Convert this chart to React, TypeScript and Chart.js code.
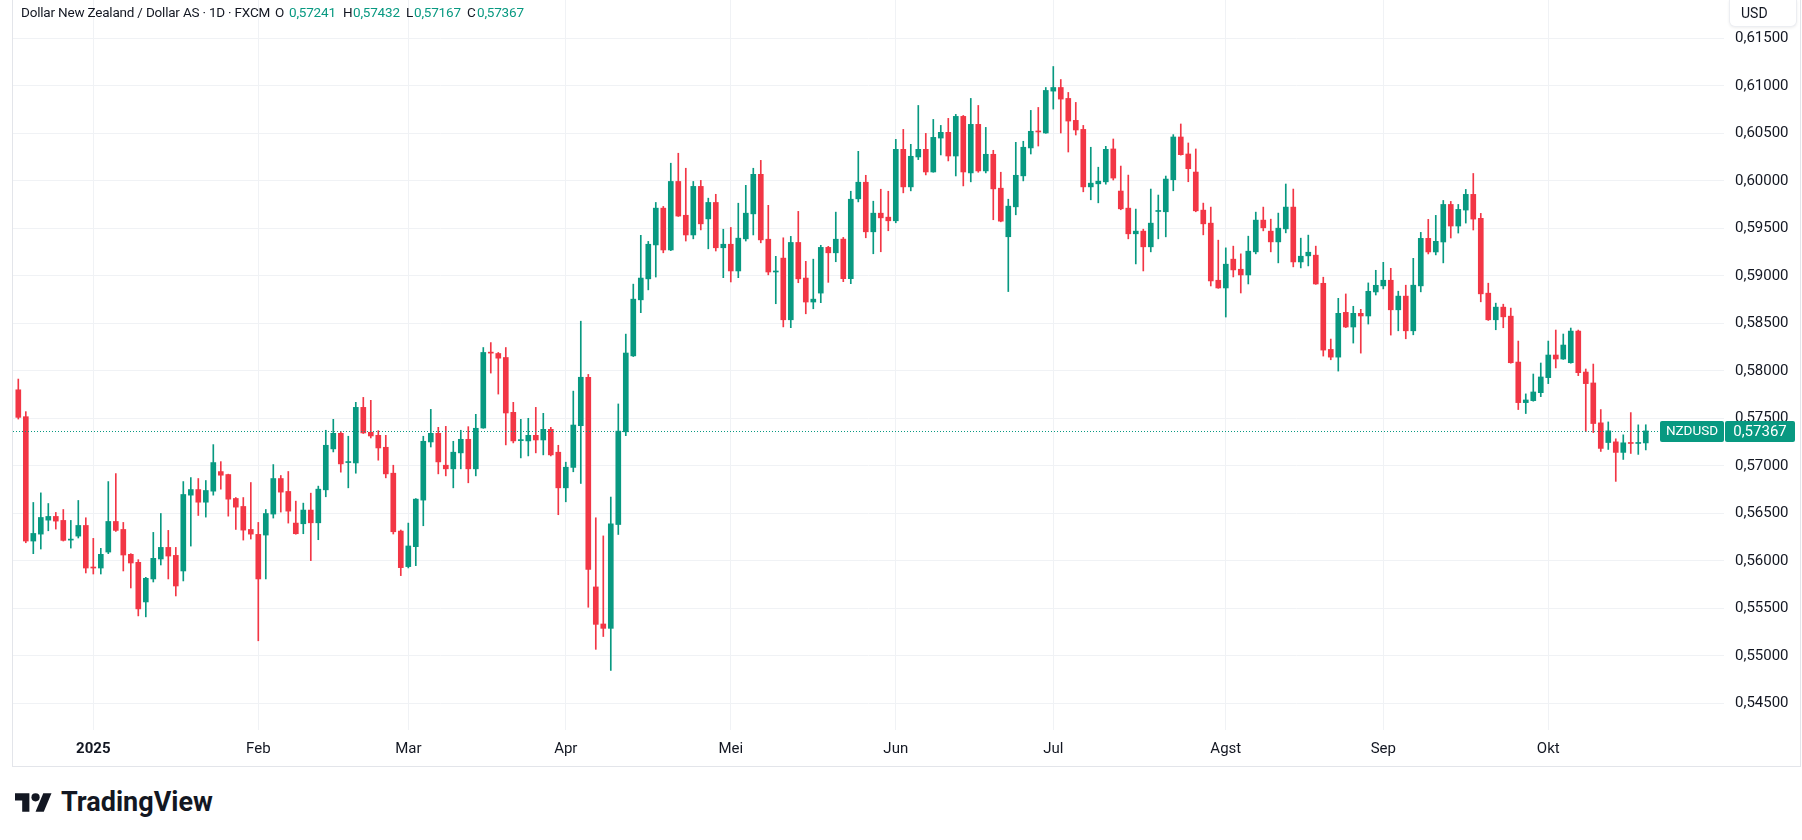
import React, { useEffect, useRef } from "react";
import { Chart, registerables } from "chart.js";

Chart.register(...registerables);

// ---------- data ----------
const SYMBOL = "NZDUSD";
const TITLE = "Dollar New Zealand / Dollar AS · 1D · FXCM";
const CURRENCY = "USD";
const START_DATE = "2024-12-17";
const HOLIDAYS = ["2024-12-25", "2025-01-01"];
const MONTH_NAMES = ["Jan", "Feb", "Mar", "Apr", "Mei", "Jun", "Jul", "Agst", "Sep", "Okt", "Nov", "Des"];
const PRICE_TICKS = [0.545, 0.55, 0.555, 0.56, 0.565, 0.57, 0.575, 0.58, 0.585, 0.59, 0.595, 0.6, 0.605, 0.61, 0.615];

const OPEN = [
  0.57800, 0.57517, 0.56208, 0.56281, 0.56428, 0.56467, 0.56425, 0.56218, 0.56260, 0.56372,
  0.55931, 0.55924, 0.56092, 0.56414, 0.56330, 0.56068, 0.55984, 0.55567, 0.55809, 0.56019,
  0.56141, 0.56057, 0.55893, 0.56691, 0.56750, 0.56617, 0.56733, 0.56939, 0.56908, 0.56656,
  0.56572, 0.56330, 0.56278, 0.56271, 0.56492, 0.56866, 0.56730, 0.56397, 0.56390, 0.56534,
  0.56400, 0.56747, 0.57178, 0.57342, 0.57034, 0.57030, 0.57615, 0.57353, 0.57321, 0.57195,
  0.56922, 0.56313, 0.55939, 0.56149, 0.56639, 0.57251, 0.57342, 0.57006, 0.56968, 0.57136,
  0.57279, 0.56968, 0.57398, 0.58189, 0.58182, 0.58140, 0.57563, 0.57265, 0.57262, 0.57321,
  0.57272, 0.57384, 0.57143, 0.56768, 0.56983, 0.57422, 0.57932, 0.55725, 0.55335, 0.55289,
  0.56382, 0.57358, 0.58157, 0.58747, 0.58968, 0.59325, 0.59712, 0.59272, 0.59993, 0.59637,
  0.59430, 0.59941, 0.59599, 0.59772, 0.59295, 0.59332, 0.59051, 0.59389, 0.59652, 0.60068,
  0.59385, 0.59040, 0.59186, 0.58537, 0.59351, 0.58976, 0.58724, 0.58818, 0.59299, 0.59242,
  0.59386, 0.58970, 0.59810, 0.59985, 0.59463, 0.59659, 0.59617, 0.59579, 0.60331, 0.59936,
  0.60251, 0.60331, 0.60093, 0.60450, 0.60510, 0.60261, 0.60678, 0.60083, 0.60594, 0.60104,
  0.60279, 0.59922, 0.59411, 0.59726, 0.60052, 0.60346, 0.60521, 0.60503, 0.60944, 0.60982,
  0.60867, 0.60636, 0.60541, 0.59936, 0.59968, 0.59989, 0.60335, 0.59892, 0.59712, 0.59442,
  0.59470, 0.59305, 0.59677, 0.59674, 0.60011, 0.60461, 0.60282, 0.60092, 0.59691, 0.59554,
  0.58953, 0.58872, 0.59175, 0.59069, 0.59009, 0.59252, 0.59586, 0.59470, 0.59357, 0.59494,
  0.59723, 0.59146, 0.59210, 0.59217, 0.58921, 0.58225, 0.58144, 0.58615, 0.58461, 0.58605,
  0.58577, 0.58830, 0.58894, 0.58953, 0.58642, 0.58786, 0.58421, 0.58894, 0.59394, 0.59251,
  0.59356, 0.59751, 0.59524, 0.59692, 0.59857, 0.59605, 0.58817, 0.58537, 0.58670, 0.58575,
  0.58092, 0.57665, 0.57686, 0.57770, 0.57928, 0.58166, 0.58124, 0.58085, 0.58418, 0.57987,
  0.57872, 0.57452, 0.57245, 0.57252, 0.57141, 0.57242, 0.57235, 0.57241,
];

const HIGH = [
  0.57913, 0.57570, 0.56614, 0.56715, 0.56603, 0.56509, 0.56540, 0.56425, 0.56635, 0.56453,
  0.56236, 0.56131, 0.56834, 0.56918, 0.56404, 0.56075, 0.56012, 0.55826, 0.56299, 0.56498,
  0.56320, 0.56141, 0.56834, 0.56876, 0.56866, 0.56845, 0.57223, 0.57044, 0.56912, 0.56666,
  0.56666, 0.56824, 0.56404, 0.56540, 0.57013, 0.56898, 0.56940, 0.56628, 0.56607, 0.56712,
  0.56786, 0.57374, 0.57489, 0.57360, 0.57311, 0.57668, 0.57720, 0.57689, 0.57370, 0.57321,
  0.57006, 0.56324, 0.56397, 0.56655, 0.57311, 0.57594, 0.57405, 0.57415, 0.57258, 0.57374,
  0.57412, 0.57542, 0.58245, 0.58297, 0.58193, 0.58245, 0.57668, 0.57489, 0.57500, 0.57615,
  0.57552, 0.57405, 0.57216, 0.57038, 0.57786, 0.58522, 0.57962, 0.56453, 0.56262, 0.56671,
  0.57651, 0.58386, 0.58912, 0.59426, 0.59362, 0.59772, 0.59730, 0.60185, 0.60290, 0.60132,
  0.59993, 0.60004, 0.59817, 0.59858, 0.59490, 0.59509, 0.59764, 0.59952, 0.60132, 0.60215,
  0.59742, 0.59205, 0.59400, 0.59415, 0.59678, 0.59152, 0.59175, 0.59321, 0.59310, 0.59670,
  0.59404, 0.59890, 0.60310, 0.60058, 0.59785, 0.59911, 0.59890, 0.60436, 0.60541, 0.60384,
  0.60793, 0.60499, 0.60646, 0.60583, 0.60657, 0.60699, 0.60688, 0.60867, 0.60793, 0.60562,
  0.60321, 0.60090, 0.59806, 0.60405, 0.60416, 0.60741, 0.60772, 0.60982, 0.61203, 0.61066,
  0.60930, 0.60825, 0.60583, 0.60353, 0.60143, 0.60363, 0.60440, 0.60155, 0.60060, 0.59702,
  0.59491, 0.59913, 0.59850, 0.60050, 0.60486, 0.60598, 0.60398, 0.60335, 0.59765, 0.59723,
  0.59375, 0.59294, 0.59312, 0.59231, 0.59417, 0.59670, 0.59723, 0.59596, 0.59660, 0.59966,
  0.59913, 0.59396, 0.59428, 0.59312, 0.58985, 0.58334, 0.58763, 0.58809, 0.58679, 0.58647,
  0.58925, 0.59058, 0.59142, 0.59079, 0.58838, 0.58901, 0.59184, 0.59457, 0.59594, 0.59636,
  0.59793, 0.59783, 0.59751, 0.59909, 0.60077, 0.59657, 0.58922, 0.58712, 0.58701, 0.58660,
  0.58313, 0.57757, 0.57966, 0.58082, 0.58313, 0.58429, 0.58387, 0.58450, 0.58429, 0.58019,
  0.58071, 0.57592, 0.57462, 0.57284, 0.57326, 0.57560, 0.57431, 0.57432,
];

const LOW = [
  0.57492, 0.56190, 0.56075, 0.56124, 0.56316, 0.56334, 0.56208, 0.56134, 0.56240, 0.55872,
  0.55861, 0.55861, 0.56075, 0.56309, 0.55893, 0.55714, 0.55420, 0.55410, 0.55777, 0.55956,
  0.55809, 0.55630, 0.55788, 0.56155, 0.56477, 0.56460, 0.56691, 0.56754, 0.56470, 0.56330,
  0.56218, 0.56229, 0.55158, 0.55809, 0.56450, 0.56513, 0.56397, 0.56280, 0.56285, 0.56002,
  0.56222, 0.56674, 0.57146, 0.56933, 0.56768, 0.56922, 0.57340, 0.57293, 0.57059, 0.56873,
  0.56282, 0.55844, 0.55925, 0.55949, 0.56369, 0.57198, 0.56915, 0.56894, 0.56768, 0.56968,
  0.56821, 0.56894, 0.57395, 0.57976, 0.57755, 0.57220, 0.57241, 0.57083, 0.57104, 0.57136,
  0.57115, 0.57104, 0.56485, 0.56621, 0.56937, 0.56814, 0.55511, 0.55068, 0.55203, 0.54846,
  0.56277, 0.57317, 0.58150, 0.58612, 0.58852, 0.58987, 0.59242, 0.59265, 0.59625, 0.59366,
  0.59389, 0.59483, 0.59284, 0.59261, 0.58980, 0.58935, 0.58980, 0.59366, 0.59430, 0.59347,
  0.59010, 0.58706, 0.58462, 0.58454, 0.58927, 0.58600, 0.58653, 0.58717, 0.58931, 0.59148,
  0.58938, 0.58917, 0.59778, 0.59400, 0.59232, 0.59253, 0.59474, 0.59558, 0.59873, 0.59894,
  0.60223, 0.60062, 0.60090, 0.60272, 0.60209, 0.60051, 0.59946, 0.59989, 0.60090, 0.60083,
  0.59590, 0.59568, 0.58834, 0.59642, 0.59999, 0.60282, 0.60366, 0.60500, 0.60755, 0.60503,
  0.60303, 0.60482, 0.59884, 0.59800, 0.59768, 0.59964, 0.60008, 0.59695, 0.59389, 0.59125,
  0.59051, 0.59252, 0.59389, 0.59410, 0.59895, 0.60270, 0.59990, 0.59674, 0.59431, 0.58893,
  0.58868, 0.58566, 0.58988, 0.58819, 0.58914, 0.59231, 0.59473, 0.59252, 0.59136, 0.59452,
  0.59094, 0.59083, 0.59104, 0.58910, 0.58155, 0.58116, 0.57997, 0.58455, 0.58292, 0.58186,
  0.58492, 0.58798, 0.58862, 0.58376, 0.58421, 0.58337, 0.58379, 0.58831, 0.59230, 0.59220,
  0.59136, 0.59398, 0.59450, 0.59555, 0.59482, 0.58726, 0.58530, 0.58432, 0.58453, 0.58080,
  0.57592, 0.57550, 0.57680, 0.57728, 0.57865, 0.58030, 0.58120, 0.58080, 0.57949, 0.57361,
  0.57350, 0.57151, 0.57172, 0.56836, 0.57067, 0.57130, 0.57120, 0.57167,
];

const CLOSE = [
  0.57510, 0.56208, 0.56288, 0.56456, 0.56467, 0.56418, 0.56215, 0.56225, 0.56372, 0.55924,
  0.55924, 0.56068, 0.56414, 0.56320, 0.56061, 0.55977, 0.55494, 0.55816, 0.56026, 0.56141,
  0.56050, 0.55735, 0.56698, 0.56750, 0.56617, 0.56740, 0.57034, 0.56901, 0.56649, 0.56565,
  0.56323, 0.56281, 0.55809, 0.56498, 0.56866, 0.56723, 0.56523, 0.56285, 0.56534, 0.56400,
  0.56754, 0.57216, 0.57342, 0.57020, 0.57038, 0.57615, 0.57346, 0.57314, 0.57188, 0.56915,
  0.56306, 0.55928, 0.56156, 0.56649, 0.57258, 0.57342, 0.57041, 0.56968, 0.57143, 0.57279,
  0.56968, 0.57395, 0.58193, 0.58186, 0.58133, 0.57556, 0.57262, 0.57269, 0.57321, 0.57272,
  0.57384, 0.57115, 0.56768, 0.56985, 0.57429, 0.57932, 0.55909, 0.55331, 0.55289, 0.56389,
  0.57365, 0.58187, 0.58754, 0.58976, 0.59332, 0.59712, 0.59272, 0.59993, 0.59629, 0.59430,
  0.59941, 0.59547, 0.59772, 0.59295, 0.59332, 0.59051, 0.59396, 0.59659, 0.60068, 0.59378,
  0.59040, 0.59043, 0.58537, 0.59351, 0.58968, 0.58724, 0.58754, 0.59299, 0.59242, 0.59385,
  0.58970, 0.59806, 0.59985, 0.59463, 0.59659, 0.59610, 0.59579, 0.60331, 0.59936, 0.60258,
  0.60331, 0.60093, 0.60457, 0.60510, 0.60261, 0.60678, 0.60093, 0.60594, 0.60104, 0.60279,
  0.59915, 0.59575, 0.59733, 0.60058, 0.60353, 0.60521, 0.60514, 0.60951, 0.60982, 0.60860,
  0.60629, 0.60535, 0.59936, 0.59975, 0.59996, 0.60331, 0.60029, 0.59705, 0.59442, 0.59470,
  0.59305, 0.59554, 0.59681, 0.60018, 0.60461, 0.60275, 0.60127, 0.59684, 0.59547, 0.58946,
  0.58872, 0.59122, 0.59062, 0.59009, 0.59259, 0.59586, 0.59505, 0.59357, 0.59501, 0.59723,
  0.59146, 0.59206, 0.59248, 0.58914, 0.58218, 0.58144, 0.58605, 0.58461, 0.58605, 0.58577,
  0.58837, 0.58900, 0.58953, 0.58642, 0.58786, 0.58421, 0.58901, 0.59394, 0.59251, 0.59363,
  0.59751, 0.59524, 0.59699, 0.59857, 0.59597, 0.58810, 0.58537, 0.58670, 0.58568, 0.58085,
  0.57665, 0.57693, 0.57777, 0.57935, 0.58166, 0.58124, 0.58271, 0.58418, 0.57980, 0.57865,
  0.57445, 0.57183, 0.57368, 0.57141, 0.57242, 0.57235, 0.57242, 0.57367,
];

// ---------- view / style ----------
const X_MIN = -0.707;
const X_MAX = 227.43;
const Y_MIN = 0.54219;
const Y_MAX = 0.61903;

const GREEN = "#089981";
const RED = "#F23645";
const GRID = "#f0f2f5";
const TEXT = "#131722";
const BORDER = "#e3e5ea";
const FONT = "Roboto";

const fmt = (v: number) => v.toFixed(5).replace(".", ",");

function buildDates(count: number): Date[] {
  const out: Date[] = [];
  const d = new Date(START_DATE + "T00:00:00Z");
  while (out.length < count) {
    const wd = d.getUTCDay();
    const iso = d.toISOString().slice(0, 10);
    if (wd !== 0 && wd !== 6 && !HOLIDAYS.includes(iso)) out.push(new Date(d.getTime()));
    d.setUTCDate(d.getUTCDate() + 1);
  }
  return out;
}

const DATES = buildDates(OPEN.length);
const MONTH_TICKS: { value: number; label: string; year: boolean }[] = [];
for (let i = 1; i < DATES.length; i++) {
  const m = DATES[i].getUTCMonth();
  if (m !== DATES[i - 1].getUTCMonth()) {
    const isYear = m === 0;
    MONTH_TICKS.push({ value: i, label: isYear ? String(DATES[i].getUTCFullYear()) : MONTH_NAMES[m], year: isYear });
  }
}

const LAST = OPEN.length - 1;
const COLORS = OPEN.map((o, i) => (CLOSE[i] >= o ? GREEN : RED));

const priceLinePlugin = {
  id: "priceLine",
  afterDatasetsDraw(chart: any) {
    const { ctx, chartArea, scales } = chart;
    const y = Math.round(scales.y.getPixelForValue(CLOSE[LAST])) + 0.5;
    ctx.save();
    ctx.strokeStyle = COLORS[LAST];
    ctx.lineWidth = 1;
    ctx.setLineDash([1, 2]);
    ctx.beginPath();
    ctx.moveTo(chartArea.left, y);
    ctx.lineTo(chartArea.right, y);
    ctx.stroke();
    ctx.restore();
  },
  afterDraw(chart: any) {
    const { ctx, chartArea, scales } = chart;
    const yc = Math.round(scales.y.getPixelForValue(CLOSE[LAST]));
    const h = 21;
    const top = yc - 10;
    ctx.save();
    ctx.fillStyle = COLORS[LAST];
    const sw = 64;
    ctx.beginPath();
    ctx.roundRect(chartArea.right - sw, top, sw, h, 2);
    ctx.fill();
    ctx.beginPath();
    ctx.roundRect(chartArea.right + 1, top, 70, h, 2);
    ctx.fill();
    ctx.fillStyle = "#ffffff";
    ctx.textBaseline = "middle";
    ctx.textAlign = "center";
    ctx.font = `13.5px ${FONT}`;
    ctx.fillText(SYMBOL, chartArea.right - sw / 2, top + h / 2 + 0.5);
    ctx.font = `15px ${FONT}`;
    ctx.fillText(fmt(CLOSE[LAST]), chartArea.right + 36, top + h / 2 + 0.5);
    ctx.restore();
  },
};

export default function App() {
  const ref = useRef<HTMLCanvasElement>(null);

  useEffect(() => {
    const canvas = ref.current;
    if (!canvas) return;
    const idx = OPEN.map((_, i) => i);
    const chart = new Chart(canvas, {
      type: "bar",
      data: {
        datasets: [
          {
            label: "body",
            data: idx.map((i) => ({ x: i, y: [OPEN[i], CLOSE[i]] })) as any,
            backgroundColor: COLORS,
            barThickness: 5,
            minBarLength: 1,
            grouped: false,
            borderWidth: 0,
          } as any,
          {
            label: "wick",
            data: idx.map((i) => ({ x: i, y: [LOW[i], HIGH[i]] })) as any,
            backgroundColor: COLORS,
            barThickness: 1,
            grouped: false,
            borderWidth: 0,
          } as any,
        ],
      },
      options: {
        animation: false,
        responsive: false,
        events: [],
        layout: { padding: 0, autoPadding: false } as any,
        plugins: { legend: { display: false }, tooltip: { enabled: false }, title: { display: false } },
        scales: {
          x: {
            type: "linear",
            min: X_MIN,
            max: X_MAX,
            offset: false,
            afterBuildTicks: (s: any) => {
              s.ticks = MONTH_TICKS.map((t) => ({ value: t.value }));
            },
            afterFit: (s: any) => {
              s.height = 36;
              s.paddingLeft = 0;
              s.paddingRight = 0;
            },
            ticks: {
              autoSkip: false,
              maxRotation: 0,
              padding: 10,
              color: TEXT,
              font: (c: any) => {
                const t = MONTH_TICKS.find((m) => c.tick && m.value === c.tick.value);
                return { family: FONT, size: 15, weight: t && t.year ? "bold" : "normal" };
              },
              callback: (v: any) => {
                const t = MONTH_TICKS.find((m) => m.value === v);
                return t ? t.label : "";
              },
            },
            grid: { color: GRID, lineWidth: 1, drawTicks: false, offset: false },
            border: { display: false },
          } as any,
          y: {
            type: "linear",
            position: "right",
            min: Y_MIN,
            max: Y_MAX,
            afterBuildTicks: (s: any) => {
              s.ticks = PRICE_TICKS.map((v) => ({ value: v }));
            },
            afterFit: (s: any) => {
              s.width = 76;
              s.paddingTop = 0;
              s.paddingBottom = 0;
            },
            ticks: {
              padding: 11,
              color: TEXT,
              font: { family: FONT, size: 15 },
              callback: (v: any) => fmt(Number(v)),
            },
            grid: { color: GRID, lineWidth: 1, drawTicks: false },
            border: { display: false },
          } as any,
        },
      },
      plugins: [priceLinePlugin],
    });
    return () => chart.destroy();
  }, []);

  const green = COLORS[LAST];
  const legendItem = (letter: string, lx: number, value: number, vx: number) => (
    <React.Fragment key={letter}>
      <span style={{ position: "absolute", left: lx, top: 0, color: TEXT }}>{letter}</span>
      <span style={{ position: "absolute", left: vx, top: 0, color: green }}>{fmt(value)}</span>
    </React.Fragment>
  );

  return (
    <div
      style={{
        position: "absolute",
        left: 0,
        top: 0,
        width: 1802,
        height: 840,
        background: "#ffffff",
        overflow: "hidden",
        fontFamily: FONT,
      }}
    >
      <div style={{ position: "absolute", left: 13, top: 0, width: 1787, height: 766 }}>
        <canvas ref={ref} width={1787} height={766} style={{ display: "block", width: 1787, height: 766 }} />
      </div>
      <div
        style={{
          position: "absolute",
          left: 12,
          top: 0,
          width: 1789,
          height: 767,
          boxSizing: "border-box",
          borderLeft: `1px solid ${BORDER}`,
          borderRight: `1px solid ${BORDER}`,
          borderBottom: `1px solid ${BORDER}`,
          pointerEvents: "none",
        }}
      />
      <div
        style={{
          position: "absolute",
          left: 0,
          top: 4,
          width: 600,
          height: 18,
          fontSize: 13.5,
          lineHeight: "17px",
          letterSpacing: "-0.2px",
          whiteSpace: "pre",
        }}
      >
        <span style={{ position: "absolute", left: 21, top: 0, color: TEXT }}>{TITLE}</span>
        {legendItem("O", 275, OPEN[LAST], 289)}
        {legendItem("H", 343, HIGH[LAST], 353)}
        {legendItem("L", 406, LOW[LAST], 414)}
        {legendItem("C", 467, CLOSE[LAST], 477)}
      </div>
      <div
        style={{
          position: "absolute",
          left: 1729,
          top: 0,
          width: 68,
          height: 27,
          boxSizing: "border-box",
          background: "#ffffff",
          border: "1px solid #eceef2",
          borderTop: "none",
          borderRadius: "0 0 6px 6px",
          boxShadow: "0 1px 3px rgba(0,0,0,0.07)",
          fontSize: 14,
          lineHeight: "26px",
          paddingLeft: 11,
          color: TEXT,
        }}
      >
        {CURRENCY}
      </div>
      <svg style={{ position: "absolute", left: 15, top: 789 }} width={37} height={29} viewBox="0 0 36 28">
        <path d="M14 22H7V11H0V4h14v18z" fill={TEXT} />
        <path d="M28 22h-8l7.5-18h8L28 22z" fill={TEXT} />
        <circle cx="20" cy="8" r="4" fill={TEXT} />
      </svg>
      <div
        style={{
          position: "absolute",
          left: 61,
          top: 789,
          fontSize: 27,
          lineHeight: "27px",
          fontWeight: 700,
          color: TEXT,
        }}
      >
        TradingView
      </div>
    </div>
  );
}
